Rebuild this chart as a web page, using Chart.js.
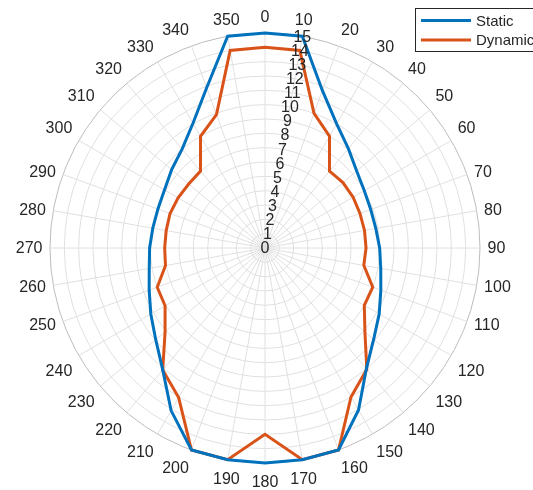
<!DOCTYPE html>
<html>
<head>
<meta charset="utf-8">
<script src="https://cdn.jsdelivr.net/npm/chart.js@4.4.1/dist/chart.umd.min.js"></script>
<style>
  html, body { margin: 0; padding: 0; background: #fff; }
</style>
</head>
<body>
<canvas id="myChart" width="533" height="490"></canvas>
<script>
// angle labels (deg, clockwise from top) and radial ticks
const angles = ['0', '10', '20', '30', '40', '50', '60', '70', '80', '90', '100', '110',
    '120', '130', '140', '150', '160', '170', '180', '190', '200', '210', '220', '230',
    '240', '250', '260', '270', '280', '290', '300', '310', '320', '330', '340', '350'];
const radialTicks = [0, 1, 2, 3, 4, 5, 6, 7, 8, 9, 10, 11, 12, 13, 14, 15];

const staticValues = [15, 15, 11.7, 10.0, 9.05, 8.35, 8.0, 7.85, 7.85, 8.0, 8.2, 8.6,
    9.2, 9.9, 11.0, 13.05, 15, 15, 15, 15, 15, 13.1, 11.1, 9.95,
    9.2, 8.6, 8.2, 8.05, 7.95, 7.95, 8.1, 8.5, 9.0, 10.05, 11.9, 15];
const dynamicValues = [14, 14, 10.0, 9.0, 7.0, 7.1, 7.1, 7.05, 7.05, 7.05, 7.0, 8.0,
    8.0, 9.1, 11.05, 12.0, 15, 15, 13, 15, 15, 12.05, 11.1, 9.1,
    8.05, 8.0, 7.05, 7.0, 7.0, 7.05, 7.0, 6.95, 7.0, 9.0, 9.9, 14];

const FONT = '"Liberation Sans", Arial, Helvetica, sans-serif';
const TEXT = '#262626';

// matlab style labels: theta labels outside the ring, r labels along the 10 deg spoke
const polarLabels = {
    id: 'polarLabels',
    afterDatasetsDraw(chart) {
        const scale = chart.scales.r;
        const ctx = chart.ctx;
        ctx.save();
        ctx.font = '16px ' + FONT;
        ctx.fillStyle = TEXT;
        chart.data.labels.forEach((lab, i) => {
            const phi = scale.getIndexAngle(i); // clockwise from top
            const s = Math.sin(phi), c = Math.cos(phi);
            const p = scale.getPointPosition(i, scale.drawingArea + 7.5);
            ctx.textAlign = Math.abs(s) < 0.2 ? 'center' : (s > 0 ? 'left' : 'right');
            let dy = 0;
            if (c > 0.45) {
                ctx.textBaseline = 'bottom';
            } else if (c < -0.45) {
                ctx.textBaseline = 'top';
                dy = 4;
            } else {
                ctx.textBaseline = 'middle';
                dy = 1;
            }
            ctx.fillText(lab, p.x, p.y + dy);
        });
        ctx.textAlign = 'center';
        ctx.textBaseline = 'middle';
        radialTicks.forEach(v => {
            const p = scale.getPointPositionForValue(1, v);
            ctx.fillText(String(v), p.x, p.y + 1);
        });
        ctx.restore();
    }
};

const boxLegend = {
    id: 'boxLegend',
    afterDraw(chart) {
        const ctx = chart.ctx;
        ctx.save();
        ctx.fillStyle = '#fff';
        ctx.fillRect(415.5, 8.5, 130, 43);
        ctx.strokeStyle = '#262626';
        ctx.lineWidth = 1;
        ctx.strokeRect(415.5, 8.5, 130, 43);
        ctx.font = '15px ' + FONT;
        ctx.textBaseline = 'middle';
        chart.data.datasets.forEach((ds, i) => {
            const y = 20.5 + i * 19.5;
            ctx.strokeStyle = ds.borderColor;
            ctx.lineWidth = 3;
            ctx.beginPath();
            ctx.moveTo(421, y);
            ctx.lineTo(471, y);
            ctx.stroke();
            ctx.fillStyle = TEXT;
            ctx.fillText(ds.label, 476, y + 1);
        });
        ctx.restore();
    }
};

const myChart = new Chart(document.getElementById('myChart'), {
    type: 'radar',
    data: {
        labels: angles,
        datasets: [{
            label: 'Static',
            data: staticValues,
            borderColor: '#0072BD',
            borderWidth: 3,
            pointRadius: 0,
            fill: false,
            clip: false
        }, {
            label: 'Dynamic',
            data: dynamicValues,
            borderColor: '#D95319',
            borderWidth: 3,
            pointRadius: 0,
            fill: false,
            clip: false
        }]
    },
    options: {
        responsive: false,
        animation: false,
        devicePixelRatio: 1,
        layout: {
            padding: { left: 50, right: 52, top: 33, bottom: 26 }
        },
        plugins: {
            legend: false,
            tooltip: { enabled: false }
        },
        scales: {
            r: {
                min: 0,
                max: 15,
                startAngle: 0,
                ticks: { display: false, stepSize: 1 },
                pointLabels: { display: false },
                grid: {
                    circular: true,
                    lineWidth: 1,
                    color: (c) => c.tick && c.tick.value === 15 ? '#bcbcbc' : '#e0e0e0'
                },
                angleLines: { color: '#e0e0e0', lineWidth: 1 }
            }
        }
    },
    plugins: [polarLabels, boxLegend]
});
</script>
</body>
</html>
